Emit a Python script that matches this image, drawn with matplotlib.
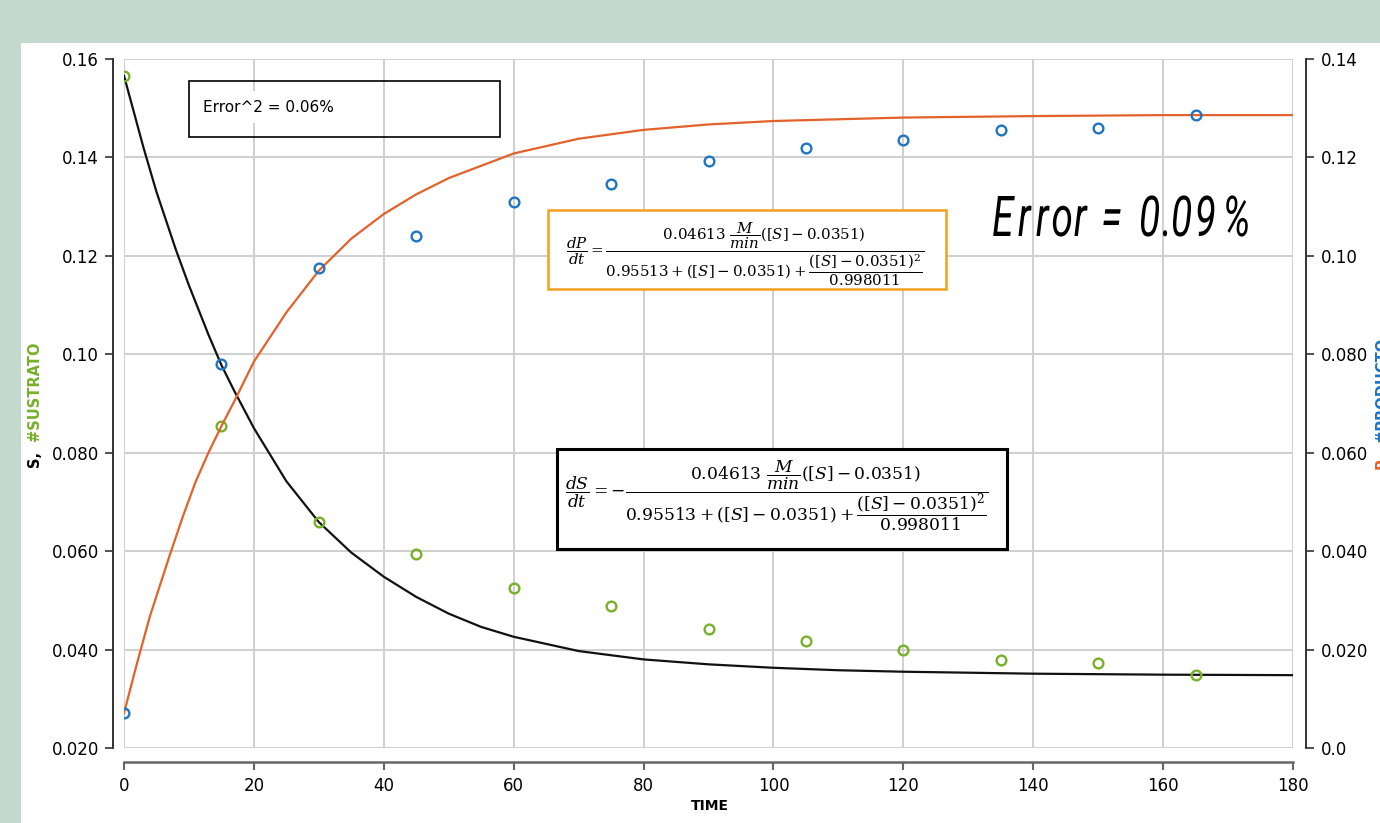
import numpy as np
import matplotlib
matplotlib.use("Agg")
import matplotlib.pyplot as plt
from matplotlib.patches import Rectangle, PathPatch
from matplotlib.textpath import TextPath
from matplotlib.font_manager import FontProperties
from matplotlib.transforms import Affine2D

W, H = 1380, 823

# measured points
time_pts = [0, 15, 30, 45, 60, 75, 90, 105, 120, 135, 150, 165]
sustrato = [0.1566, 0.0854, 0.0659, 0.0594, 0.0525, 0.0489, 0.0442, 0.0417, 0.0399, 0.0379, 0.0373, 0.0348]
producto = [0.0071, 0.0780, 0.0975, 0.1040, 0.1110, 0.1146, 0.1193, 0.1219, 0.1235, 0.1256, 0.1260, 0.1286]

# model curves
t_model_s = [0, 3, 5, 8, 10, 13, 15, 17, 20, 25, 30, 35, 40, 45, 50, 55, 60, 70, 80, 90, 100, 110, 120,
             140, 160, 180]
s_model = [0.1566, 0.1420, 0.1330, 0.1212, 0.1140, 0.1040, 0.0978, 0.0925, 0.0850, 0.0742, 0.0659, 0.0597,
           0.0548, 0.0507, 0.0473, 0.0446, 0.0426, 0.0397, 0.0380, 0.0370, 0.0363, 0.0358, 0.0355,
           0.0351, 0.0349, 0.0348]
t_model_p = [0, 2, 4, 7, 9, 11, 13, 15, 17, 20, 25, 30, 35, 40, 45, 50, 60, 70, 80, 90, 100, 120, 140, 160, 180]
p_model = [0.0071, 0.0172, 0.0268, 0.0390, 0.0468, 0.0540, 0.0600, 0.0654, 0.0705, 0.0785, 0.0885, 0.0970,
           0.1035, 0.1085, 0.1125, 0.1158, 0.1208, 0.1238, 0.1256, 0.1267, 0.1274, 0.1281, 0.1284, 0.1286, 0.1286]

x_ticks = [0, 20, 40, 60, 80, 100, 120, 140, 160, 180]
left_ticks = [0.02, 0.04, 0.06, 0.08, 0.10, 0.12, 0.14, 0.16]
left_labels = ["0.020", "0.040", "0.060", "0.080", "0.10", "0.12", "0.14", "0.16"]
right_ticks = [0.0, 0.02, 0.04, 0.06, 0.08, 0.10, 0.12, 0.14]
right_labels = ["0.0", "0.020", "0.040", "0.060", "0.080", "0.10", "0.12", "0.14"]

GREEN = "#77b02a"
BLUE = "#1f74c4"
ORANGE = "#e2622a"
BOX_ORANGE = "#f2a01e"


def fx(x):
    return x / W


def fy(y):
    return 1 - y / H


fig = plt.figure(figsize=(13.8, 8.23), dpi=100, facecolor="#c4d9cd")
fig.add_artist(Rectangle((fx(21), 0), 1, fy(43), transform=fig.transFigure,
                         facecolor="white", edgecolor="none", zorder=-1))

ax = fig.add_axes([fx(124), fy(748), (1293 - 124) / W, (748 - 59) / H])
ax.set_xlim(0, 180)
ax.set_ylim(0.02, 0.16)
ax.set_xticks(x_ticks)
ax.set_yticks(left_ticks)
ax.set_yticklabels(left_labels)
ax.grid(True, color="#cfcfcf", linewidth=1.4)
ax.set_axisbelow(True)
for s in ["top", "right"]:
    ax.spines[s].set_visible(False)
ax.spines["left"].set_position(("outward", 8))
ax.spines["bottom"].set_position(("outward", 10))
ax.spines["left"].set_color("#333333")
ax.spines["bottom"].set_color("#666666")
ax.spines["left"].set_linewidth(1.4)
ax.spines["bottom"].set_linewidth(1.8)
ax.tick_params(axis="y", length=6, width=1.2, color="#333333", labelsize=12, pad=4)
ax.tick_params(axis="x", length=6, width=1.5, color="#666666", labelsize=12, pad=5)

ax2 = ax.twinx()
ax2.set_ylim(0.0, 0.14)
ax2.set_yticks(right_ticks)
ax2.set_yticklabels(right_labels)
for s in ["top", "left", "bottom"]:
    ax2.spines[s].set_visible(False)
ax2.spines["right"].set_position(("outward", 9))
ax2.spines["right"].set_color("#333333")
ax2.spines["right"].set_linewidth(1.4)
ax2.tick_params(axis="y", length=6, width=1.2, color="#333333", labelsize=12, pad=5)

ax.plot(t_model_s, s_model, color="#111111", lw=1.6, zorder=3)
ax.plot(time_pts, sustrato, "o", ms=7, mfc="none", mec=GREEN, mew=1.7, zorder=4)
ax2.plot(t_model_p, p_model, color=ORANGE, lw=1.6, zorder=3)
ax2.plot(time_pts, producto, "o", ms=7, mfc="none", mec=BLUE, mew=1.7, zorder=4)

# axis titles
fig.text(fx(710), fy(806), "TIME", ha="center", va="center", fontsize=10, fontweight="bold")
fig.text(fx(35), fy(459), "S,", rotation=90, ha="center", va="center", fontsize=10.5, fontweight="bold")
fig.text(fx(35), fy(391), "#SUSTRATO", rotation=90, ha="center", va="center", fontsize=10.5,
         fontweight="bold", color=GREEN)
fig.text(fx(1382), fy(462), "P,", rotation=90, ha="center", va="center", fontsize=10.5,
         fontweight="bold", color=ORANGE)
fig.text(fx(1382), fy(390), "#PRODUCTO", rotation=90, ha="center", va="center", fontsize=10.5,
         fontweight="bold", color=BLUE)

# Error^2 box
fig.add_artist(Rectangle((fx(189), fy(137)), (500 - 189) / W, (137 - 81) / H, transform=fig.transFigure,
                         facecolor="none", edgecolor="black", lw=1.2, zorder=2))
fig.text(fx(203), fy(107), "Error^2 = 0.06%", ha="left", va="center", fontsize=11,
         bbox=dict(facecolor="white", edgecolor="none", pad=6))

# dP/dt box
rect_p = Rectangle((fx(548), fy(289)), (946 - 548) / W, (289 - 210) / H, transform=fig.transFigure,
                   facecolor="white", edgecolor=BOX_ORANGE, lw=1.8, zorder=2)
fig.add_artist(rect_p)
eq_p = (r"$\dfrac{dP}{dt} = \dfrac{0.04613\ \dfrac{M}{min}([S]-0.0351)}"
        r"{0.95513 + ([S]-0.0351) + \dfrac{([S]-0.0351)^2}{0.998011}}$")
tp = fig.text(fx(566), fy(221), eq_p, ha="left", va="top", fontsize=10.8, math_fontfamily="dejavuserif")
tp.set_clip_path(rect_p)

# dS/dt box
rect_s = Rectangle((fx(557), fy(549)), (1007 - 557) / W, (549 - 449) / H, transform=fig.transFigure,
                   facecolor="white", edgecolor="black", lw=2.2, zorder=2)
fig.add_artist(rect_s)
eq_s = (r"$\dfrac{dS}{dt} = -\dfrac{0.04613\ \dfrac{M}{min}([S]-0.0351)}"
        r"{0.95513 + ([S]-0.0351) + \dfrac{([S]-0.0351)^2}{0.998011}}$")
fig.text(fx(565), fy(458), eq_s, ha="left", va="top", fontsize=12.3, math_fontfamily="dejavuserif")

# big condensed italic label, placed glyph by glyph (centres in pixels)
fp = FontProperties(family="Roboto", style="italic")
big_chars = ["E", "r", "r", "o", "r", "=", "0", ".", "0", "9", "%"]
big_centre = [1004, 1025, 1043, 1062, 1081, 1112, 1150, 1165, 1182, 1206, 1237]
zero_ext = TextPath((0, 0), "0", size=1, prop=fp).get_extents()
cap_ext = TextPath((0, 0), "E", size=1, prop=fp).get_extents()
sy = 40 / cap_ext.height
sx = 18 / zero_ext.width
for ch, xc in zip(big_chars, big_centre):
    p = TextPath((0, 0), ch, size=1, prop=fp)
    e = p.get_extents()
    tr = Affine2D().translate(-(e.x0 + e.x1) / 2, 0).scale(sx, sy).translate(xc, H - 236)
    fig.add_artist(PathPatch(p, transform=tr, facecolor="black", edgecolor="none", zorder=3))

fig.savefig("out.png", dpi=100, facecolor=fig.get_facecolor())
